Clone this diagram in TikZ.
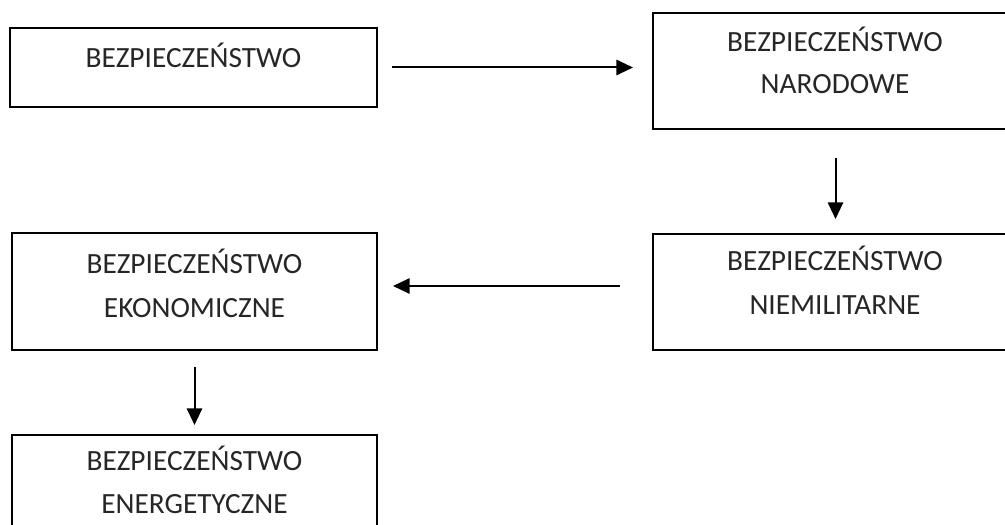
\documentclass[tikz,border=0pt]{standalone}
\usepackage{fontspec}
\setmainfont{Carlito}
\usetikzlibrary{arrows.meta}
\begin{document}
\begin{tikzpicture}[x=0.75pt,y=-0.75pt,
  box/.style={draw, line width=1.5pt, anchor=north west, inner sep=0pt, outer sep=0pt},
  lbl/.style={font=\fontsize{22}{26}\selectfont, anchor=base, inner sep=0pt, text=black!85},
  arr/.style={-{Triangle[length=12.5pt,width=11.5pt]}, line width=1.5pt}]
\useasboundingbox (0,0) rectangle (1005,524);
\clip (0,0) rectangle (1005,524);
\node[box, minimum width=275.25pt, minimum height=59.25pt] (b1) at (10,28) {};
\node[box, minimum width=273.75pt, minimum height=87pt] (b2) at (653,13) {};
\node[box, minimum width=273.75pt, minimum height=87pt] (b3) at (653,234) {};
\node[box, minimum width=273.75pt, minimum height=87.75pt] (b4) at (12,233) {};
\node[box, minimum width=273.75pt, minimum height=87.75pt] (b5) at (12,435) {};
\node[lbl] (t1) at (193.5,68) {BEZPIECZEŃSTWO};
\node[lbl] (t2a) at (835,52) {BEZPIECZEŃSTWO};
\node[lbl] (t2b) at (835,94) {NARODOWE};
\node[lbl] (t3a) at (835,270) {BEZPIECZEŃSTWO};
\node[lbl] (t3b) at (835,314) {NIEMILITARNE};
\node[lbl] (t4a) at (194.5,273) {BEZPIECZEŃSTWO};
\node[lbl] (t4b) at (194.5,317) {EKONOMICZNE};
\node[lbl] (t5a) at (194.5,470) {BEZPIECZEŃSTWO};
\node[lbl] (t5b) at (194.5,513) {ENERGETYCZNE};
\draw[arr, shorten <=11.25pt, shorten >=15pt] (b1.east) -- (b1.east -| b2.west);
\draw[arr, shorten <=21.75pt, shorten >=11.25pt] (b2.south) -- (b2.south |- b3.north);
\draw[arr, shorten <=24.75pt, shorten >=12pt] ([yshift=4.5pt]b3.west) -- ([yshift=4.5pt]b3.west -| b4.east);
\draw[arr, shorten <=12.75pt, shorten >=7.5pt] (b4.south) -- (b4.south |- b5.north);
\end{tikzpicture}
\end{document}
